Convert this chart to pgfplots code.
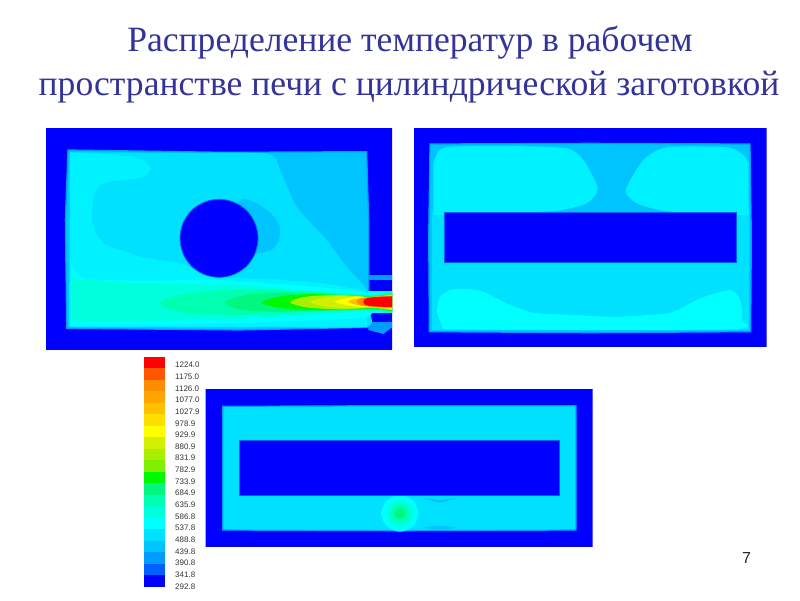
\documentclass[border=0pt]{standalone}
\usepackage{fontspec}
\setmainfont{Liberation Sans}
\newfontfamily\ttl{Liberation Serif}
\usepackage{pgfplots}
\pgfplotsset{compat=1.18}
\definecolor{a01}{HTML}{0000FF}\definecolor{a02}{HTML}{0060FF}\definecolor{a03}{HTML}{009CFF}
\definecolor{a04}{HTML}{00C4FF}\definecolor{a05}{HTML}{00E0FF}\definecolor{a06}{HTML}{00FFFF}
\definecolor{a07}{HTML}{00FFDC}\definecolor{a08}{HTML}{00FFB0}\definecolor{a09}{HTML}{00F880}
\definecolor{a10}{HTML}{00F800}\definecolor{a11}{HTML}{80F000}\definecolor{a12}{HTML}{A8F000}
\definecolor{a13}{HTML}{D0F000}\definecolor{a14}{HTML}{FFFF00}\definecolor{a15}{HTML}{FFDF00}
\definecolor{a16}{HTML}{FFC000}\definecolor{a17}{HTML}{FFA500}\definecolor{a18}{HTML}{FF8C00}
\definecolor{a19}{HTML}{FF5500}\definecolor{a20}{HTML}{FF0000}
\definecolor{ttlc}{HTML}{333399}
\definecolor{mid}{HTML}{00F2FF}
\newcommand\rct[5]{\addplot[fill=#1,draw=none] coordinates {(#2,#3)(#4,#3)(#4,#5)(#2,#5)} -- cycle;}
\newcommand\blob[2]{\addplot[fill=#1,draw=none,smooth cycle,tension=0.55] coordinates {#2};}
\newcommand\lb[2]{\node[anchor=west,inner sep=0pt,font=\fontsize{8}{9}\selectfont,text=black!80] at (axis cs:175,#1) {#2};}
\pgfplotsset{panel/.style={hide axis,scale only axis,y dir=reverse,anchor=north west}}
\begin{document}
\begin{tikzpicture}[x=1pt,y=1pt]
\path[use as bounding box] (0,0) rectangle (800,-600);
% base: title, colour bar, page number
\begin{axis}[panel,at={(0pt,0pt)},width=800pt,height=600pt,xmin=0,xmax=800,ymin=0,ymax=600]
\rct{a01}{143.7}{575.2}{165.3}{586.7}
\rct{a02}{143.7}{563.7}{165.3}{575.2}
\rct{a03}{143.7}{552.2}{165.3}{563.7}
\rct{a04}{143.7}{540.7}{165.3}{552.2}
\rct{a05}{143.7}{529.2}{165.3}{540.7}
\rct{a06}{143.7}{517.7}{165.3}{529.2}
\rct{a07}{143.7}{506.2}{165.3}{517.7}
\rct{a08}{143.7}{494.7}{165.3}{506.2}
\rct{a09}{143.7}{483.2}{165.3}{494.7}
\rct{a10}{143.7}{471.7}{165.3}{483.2}
\rct{a11}{143.7}{460.2}{165.3}{471.7}
\rct{a12}{143.7}{448.7}{165.3}{460.2}
\rct{a13}{143.7}{437.2}{165.3}{448.7}
\rct{a14}{143.7}{425.7}{165.3}{437.2}
\rct{a15}{143.7}{414.2}{165.3}{425.7}
\rct{a16}{143.7}{402.7}{165.3}{414.2}
\rct{a17}{143.7}{391.2}{165.3}{402.7}
\rct{a18}{143.7}{379.7}{165.3}{391.2}
\rct{a19}{143.7}{368.2}{165.3}{379.7}
\rct{a20}{143.7}{356.7}{165.3}{368.2}
\lb{365.0}{1224.0}\lb{376.7}{1175.0}\lb{388.3}{1126.0}\lb{400.0}{1077.0}\lb{411.6}{1027.9}
\lb{423.3}{978.9}\lb{434.9}{929.9}\lb{446.6}{880.9}\lb{458.2}{831.9}\lb{469.9}{782.9}
\lb{481.5}{733.9}\lb{493.2}{684.9}\lb{504.8}{635.9}\lb{516.5}{586.8}\lb{528.1}{537.8}
\lb{539.8}{488.8}\lb{551.4}{439.8}\lb{563.1}{390.8}\lb{574.7}{341.8}\lb{586.4}{292.8}
\node[font=\ttl\fontsize{35.6}{40}\selectfont,text=ttlc,inner sep=0pt] at (axis cs:410,43) {Распределение температур в рабочем};
\node[font=\ttl\fontsize{35.6}{40}\selectfont,text=ttlc,inner sep=0pt] at (axis cs:409,87) {пространстве печи с цилиндрической заготовкой};
\node[font=\fontsize{16}{18}\selectfont,text=black!85,inner sep=0pt] at (axis cs:746.5,558) {7};
\end{axis}
% panel 1
\begin{axis}[panel,at={(46pt,-128.3pt)},width=346pt,height=221pt,xmin=18,xmax=1056,ymin=25,ymax=688]
\rct{a01}{0}{0}{1100}{700}
% ports and burner outlets
\rct{a03}{985}{465}{1060}{480}
\rct{a03}{985}{605}{1060}{624}
\rct{a03}{985}{512}{1060}{578}
\addplot[fill=a03,draw=none] coordinates {(985,615)(1056,622)(1030,642)(985,630)} -- cycle;
\addplot[fill=a04,draw=a03,line width=1.2pt] coordinates {(84,90)(560,97)(980,95)(986,300)(986,622)(600,630)(80,625)(76,300)} -- cycle;
% main region
\addplot[fill=a05,draw=none,smooth,tension=0.4] coordinates {(90,97)(400,99)(680,101)(720,150)(770,260)(860,360)(920,440)(982,512)(982,560)(982,620)(700,622)(88,620)} -- cycle;
% lighter left strip, top-left lobe and band below the billet
\addplot[fill=mid,draw=none] coordinates {(90,97)(200,103)(270,108)(310,120)(333,145)(318,168)(280,178)(215,183)(180,195)(160,230)(155,300)(170,345)(195,375)(300,410)(430,432)(520,472)(700,478)(850,490)(975,512)(982,620)(88,620)} -- cycle;
\blob{a04}{(600,240)(680,270)(720,325)(700,385)(620,400)(560,340)}
% lower warm region, nested
\addplot[fill=a06,draw=none,smooth,tension=0.4] coordinates {(92,425)(130,475)(300,482)(520,480)(750,495)(985,520)(985,590)(800,602)(500,612)(92,618)} -- cycle;
\rct{a06}{985}{512}{1060}{578}
\addplot[fill=a07,draw=none,smooth,tension=0.4] coordinates {(96,475)(300,490)(600,495)(800,512)(990,526)(1080,514)(1080,577)(990,574)(800,585)(500,600)(96,604)} -- cycle;
\blob{a08}{(360,550)(420,525)(600,508)(800,515)(1000,526)(1090,515)(1090,576)(1000,570)(800,577)(600,585)(420,575)}
\blob{a09}{(555,548)(620,525)(750,518)(1000,528)(1090,516)(1090,575)(1000,568)(800,574)(620,572)}
\blob{a10}{(665,548)(720,530)(820,522)(1000,530)(1090,518)(1090,573)(1000,566)(820,570)(720,564)}
\blob{a12}{(750,546)(800,530)(900,525)(1000,532)(1090,520)(1090,571)(1000,564)(900,568)(800,562)}
\blob{a13}{(812,546)(870,530)(950,528)(1000,533)(1090,522)(1090,569)(1000,562)(950,564)(870,562)}
\blob{a14}{(885,545)(950,530)(1000,533)(1090,524)(1090,567)(1000,560)(950,560)}
\blob{a16}{(925,545)(970,533)(1090,527)(1090,564)(970,558)}
\blob{a18}{(950,545)(975,533)(1090,529)(1090,561)(975,558)}
\blob{a20}{(970,545)(990,533)(1090,531)(1090,559)(990,558)}
% billet
\addplot[fill=a01,draw=a03!60!a01,line width=.8pt,smooth cycle,tension=0.55] coordinates {(654,355)(645,400)(620,438)(582,463)(537,472)(492,463)(454,438)(429,400)(420,355)(429,310)(454,272)(492,247)(537,238)(582,247)(620,272)(645,310)};
\end{axis}
% panel 2
\begin{axis}[panel,at={(414pt,-128.3pt)},width=352.7pt,height=218.4pt,xmin=12,xmax=1070,ymin=25,ymax=680]
\rct{a01}{0}{0}{1100}{700}
\addplot[fill=a04,draw=a03,line width=1.2pt] coordinates {(60,72)(540,70)(1020,72)(1024,350)(1022,635)(540,638)(58,635)(56,350)} -- cycle;
\rct{a05}{66}{277}{1016}{630}
\addplot[fill=mid,draw=none,smooth,tension=0.4] coordinates {(70,130)(85,95)(120,80)(300,78)(470,85)(520,120)(563,205)(530,250)(440,272)(260,282)(70,285)} -- cycle;
\addplot[fill=mid,draw=none,smooth,tension=0.4] coordinates {(1016,130)(1000,105)(950,82)(770,82)(700,120)(647,210)(680,250)(760,272)(880,282)(1016,285)} -- cycle;
\addplot[fill=a06,draw=none,smooth,tension=0.4] coordinates {(80,575)(90,530)(130,507)(210,512)(290,550)(370,578)(500,585)(620,590)(780,578)(870,535)(960,510)(990,540)(996,600)(960,628)(100,628)} -- cycle;
\addplot[fill=a01,draw=a03!60!a01,line width=.8pt] coordinates {(103,277)(978,277)(978,427)(103,427)} -- cycle;
\end{axis}
% panel 3
\begin{axis}[panel,at={(205.7pt,-389.3pt)},width=387pt,height=157.4pt,xmin=17,xmax=1178,ymin=13,ymax=485]
\rct{a01}{0}{0}{1200}{500}
\addplot[fill=a05,draw=a03,line width=1.2pt] coordinates {(68,64)(600,62)(1128,62)(1128,435)(600,437)(68,435)} -- cycle;
\blob{a04}{(670,338)(720,345)(770,338)(720,352)}
\blob{a04}{(670,428)(720,422)(770,428)(720,433)}
\blob{a06}{(655,385)(639,424)(600,440)(561,424)(543,385)(561,346)(600,330)(639,346)}
\blob{a07}{(640,385)(628,413)(600,425)(572,413)(560,385)(572,357)(600,345)(628,357)}
\blob{a08}{(628,385)(620,405)(600,413)(580,405)(572,385)(580,365)(600,357)(620,365)}
\blob{a09}{(616,385)(611,396)(600,401)(589,396)(584,385)(589,374)(600,369)(611,374)}
\addplot[fill=a01,draw=a03!60!a01,line width=.8pt] coordinates {(117,165)(1078,165)(1078,332)(117,332)} -- cycle;
\end{axis}
\end{tikzpicture}
\end{document}
